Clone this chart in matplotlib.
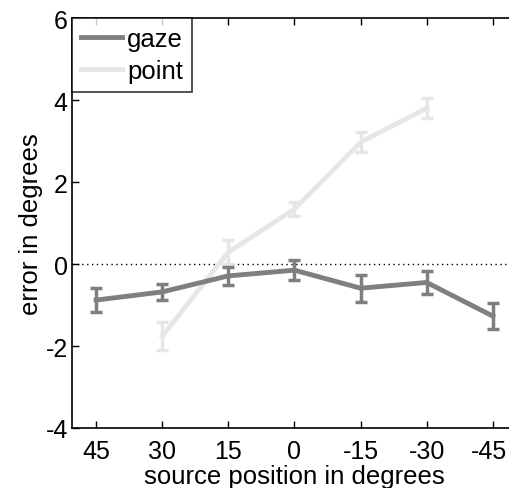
import matplotlib
matplotlib.use('Agg')
import matplotlib.pyplot as plt
import matplotlib.transforms as mtransforms

positions = ['45', '30', '15', '0', '-15', '-30', '-45']

gaze_x = [1, 2, 3, 4, 5, 6, 7]
gaze_err = [-0.88, -0.68, -0.29, -0.15, -0.59, -0.45, -1.27]
gaze_sem = [0.29, 0.20, 0.22, 0.25, 0.33, 0.29, 0.32]

point_x = [2, 3, 4, 5, 6]
point_err = [-1.76, 0.29, 1.34, 2.97, 3.80]
point_sem = [0.34, 0.30, 0.18, 0.25, 0.25]

plt.rcParams['font.family'] = ['Liberation Sans', 'DejaVu Sans']
plt.rcParams['axes.unicode_minus'] = False

fig = plt.figure(figsize=(5.09, 4.89), dpi=100)
ax = fig.add_axes([0.1415, 0.1227, 0.874, 0.8384])

ax.axhline(0, color='black', linestyle=(0, (1, 2.5)), linewidth=1, zorder=1)

p = ax.errorbar(point_x, point_err, yerr=point_sem, color='#e6e6e6', linewidth=3.5,
                elinewidth=2.5, capsize=4, capthick=2.5, zorder=2)
g = ax.errorbar(gaze_x, gaze_err, yerr=gaze_sem, color='#7f7f7f', linewidth=3.5,
                elinewidth=2.5, capsize=4, capthick=2.5, zorder=3)

ax.set_xlim(0.636, 7.364)
ax.set_ylim(-4, 6)
ax.set_xticks(gaze_x)
ax.set_xticklabels(positions)
ax.set_yticks([-4, -2, 0, 2, 4, 6])
ax.tick_params(direction='in', length=5, width=1, labelsize=18, top=True, right=True)
ax.tick_params(axis='x', pad=8)
ax.tick_params(axis='y', pad=3)
for s in ax.spines.values():
    s.set_linewidth(1.2)

# last label sits at the figure edge, nudge it left a little
last = ax.get_xticklabels()[-1]
last.set_transform(last.get_transform() + mtransforms.ScaledTranslation(-4 / 100, 0, fig.dpi_scale_trans))

ax.set_xlabel('source position in degrees', fontsize=18.5, labelpad=1)
ax.set_ylabel('error in degrees', fontsize=18.5, labelpad=2)

leg = ax.legend([g.lines[0], p.lines[0]], ['gaze', 'point'], loc='upper left',
                fontsize=18.5, frameon=True, fancybox=False, borderaxespad=0,
                handlelength=1.6, handletextpad=0.2, borderpad=0.35, labelspacing=0.3)
leg.get_frame().set_edgecolor('black')
leg.get_frame().set_linewidth(1.2)

fig.savefig('out.png', dpi=100)
